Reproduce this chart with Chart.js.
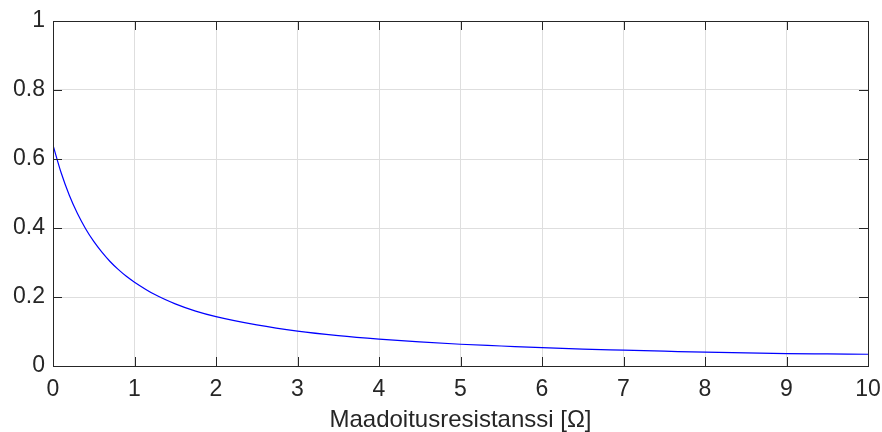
<!DOCTYPE html>
<html>
<head>
<meta charset="utf-8">
<script src="https://cdn.jsdelivr.net/npm/chart.js@4.4.1/dist/chart.umd.min.js"></script>
<style>
  html, body { margin: 0; padding: 0; background: #fff; }
  #wrap { width: 882px; height: 432px; }
</style>
</head>
<body>
<div id="wrap"><canvas id="c"></canvas></div>
<script>
// values
var resistance = [0, 0.1, 0.2, 0.3, 0.4, 0.5, 0.6, 0.7, 0.8, 0.9, 1, 1.25, 1.5, 1.75, 2, 2.5, 3, 3.5, 4, 4.5, 5, 5.5, 6, 6.5, 7, 7.5, 8, 8.5, 9, 9.5, 10];
var ratio = [0.64, 0.56, 0.495, 0.442, 0.398, 0.361, 0.330, 0.303, 0.280, 0.260, 0.243, 0.207, 0.180, 0.159, 0.143, 0.119, 0.101, 0.088, 0.078, 0.070, 0.063, 0.058, 0.053, 0.049, 0.046, 0.043, 0.040, 0.038, 0.036, 0.035, 0.034];
var xTicks = [0, 1, 2, 3, 4, 5, 6, 7, 8, 9, 10];
var yTicks = [0, 0.2, 0.4, 0.6, 0.8, 1];
var xTitle = 'Maadoitusresistanssi [\u03A9]';

var axisColor = '#262626';
var gridColor = '#dedede';
var fontFamily = '"Liberation Sans", Arial, sans-serif';

var points = resistance.map(function (x, i) { return { x: x, y: ratio[i] }; });

// MATLAB-like box with inward ticks
var boxPlugin = {
    id: 'box',
    afterDraw: function (chart) {
        var ctx = chart.ctx;
        var a = chart.chartArea;
        var xs = chart.scales.x, ys = chart.scales.y;
        var len = 9;
        ctx.save();
        ctx.strokeStyle = axisColor;
        ctx.lineWidth = 1;
        ctx.beginPath();
        xTicks.forEach(function (v) {
            var px = Math.round(xs.getPixelForValue(v)) + 0.5;
            ctx.moveTo(px, a.bottom); ctx.lineTo(px, a.bottom - len);
            ctx.moveTo(px, a.top); ctx.lineTo(px, a.top + len);
        });
        yTicks.forEach(function (v) {
            var py = Math.round(ys.getPixelForValue(v)) + 0.5;
            ctx.moveTo(a.left, py); ctx.lineTo(a.left + len, py);
            ctx.moveTo(a.right, py); ctx.lineTo(a.right - len, py);
        });
        ctx.stroke();
        ctx.strokeRect(Math.round(a.left) + 0.5, Math.round(a.top) + 0.5,
            Math.round(a.right - a.left), Math.round(a.bottom - a.top));
        ctx.restore();
    }
};

var bgPlugin = {
    id: 'bg',
    beforeDraw: function (chart) {
        var ctx = chart.ctx;
        ctx.save();
        ctx.fillStyle = '#fff';
        ctx.fillRect(0, 0, chart.width, chart.height);
        ctx.restore();
    }
};

new Chart(document.getElementById('c'), {
    type: 'line',
    data: {
        datasets: [{
            data: points,
            borderColor: '#0000ff',
            borderWidth: 1.2,
            pointRadius: 0,
            fill: false,
            cubicInterpolationMode: 'monotone'
        }]
    },
    options: {
        responsive: true,
        maintainAspectRatio: false,
        animation: false,
        layout: { padding: { top: 21, right: 14, left: 0, bottom: 0 } },
        plugins: { legend: { display: false }, tooltip: { enabled: false } },
        scales: {
            x: {
                type: 'linear',
                min: 0, max: 10,
                afterFit: function (s) { s.height = 66; s.paddingLeft = 0; s.paddingRight = 0; },
                afterBuildTicks: function (s) { s.ticks = xTicks.map(function (v) { return { value: v }; }); },
                grid: { color: gridColor, drawTicks: false },
                border: { display: false },
                ticks: { color: axisColor, padding: 10, maxRotation: 0,
                    callback: function (v) { return String(v); },
                    font: { family: fontFamily, size: 23 } },
                title: { display: true, text: xTitle, color: axisColor, padding: { top: 0, bottom: -3 },
                    font: { family: fontFamily, size: 24 } }
            },
            y: {
                type: 'linear',
                min: 0, max: 1,
                afterFit: function (s) { s.width = 53; s.paddingTop = 0; s.paddingBottom = 0; },
                afterBuildTicks: function (s) { s.ticks = yTicks.map(function (v) { return { value: v }; }); },
                grid: { color: gridColor, drawTicks: false },
                border: { display: false },
                ticks: { color: axisColor, padding: 8,
                    callback: function (v) { return String(v); },
                    font: { family: fontFamily, size: 23 } }
            }
        }
    },
    plugins: [bgPlugin, boxPlugin]
});
</script>
</body>
</html>
